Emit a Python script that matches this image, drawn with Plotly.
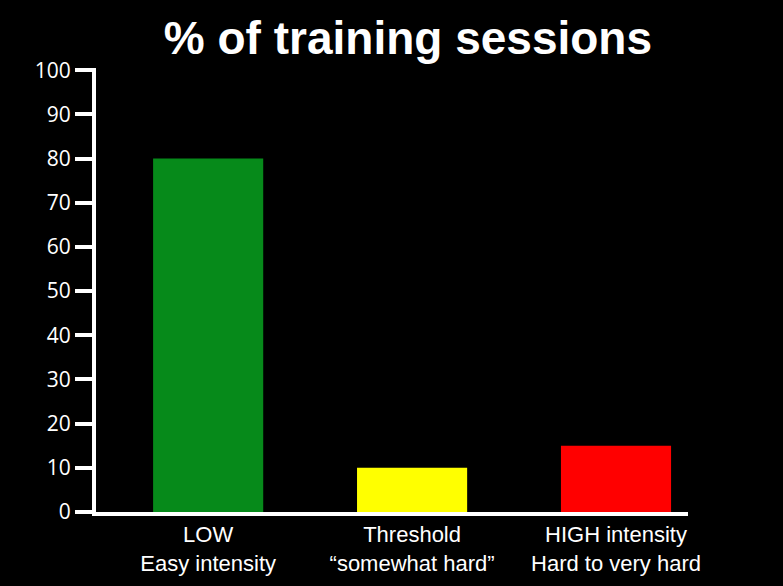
import plotly.graph_objects as go

categories = ["LOW<br>Easy intensity", "Threshold<br>\u201csomewhat hard\u201d", "HIGH intensity<br>Hard to very hard"]
values = [80, 10, 15]
colors = ["#068a1a", "#ffff00", "#ff0000"]

fig = go.Figure()
fig.add_trace(go.Bar(x=categories, y=values, marker=dict(color=colors, line=dict(width=0)),
                     width=0.54))

fig.update_layout(
    width=783, height=586,
    paper_bgcolor="black", plot_bgcolor="black",
    margin=dict(l=96, r=95, t=68, b=74),
    showlegend=False,
    title=dict(text="<b>% of training sessions</b>", x=0.521, xanchor="center",
               y=0.935, yanchor="middle",
               font=dict(family="Liberation Sans", size=46, color="white")),
)
fig.update_xaxes(range=[-0.55, 2.353], showline=True, linecolor="white", linewidth=4,
                 ticks="", showgrid=False, zeroline=False, automargin=False,
                 tickfont=dict(family="Liberation Sans", size=22, color="white"))
fig.update_yaxes(range=[0, 100.5], tickvals=list(range(0, 101, 10)), showline=True,
                 linecolor="white", linewidth=4, ticks="outside", ticklen=17,
                 tickwidth=4, tickcolor="white", showgrid=False, zeroline=False,
                 automargin=False,
                 tickfont=dict(family="Open Sans", size=21, color="white"))

fig.write_html("out.html", config=dict(displayModeBar=False),
               post_script="document.body.style.margin='0';document.body.style.background='black';")
